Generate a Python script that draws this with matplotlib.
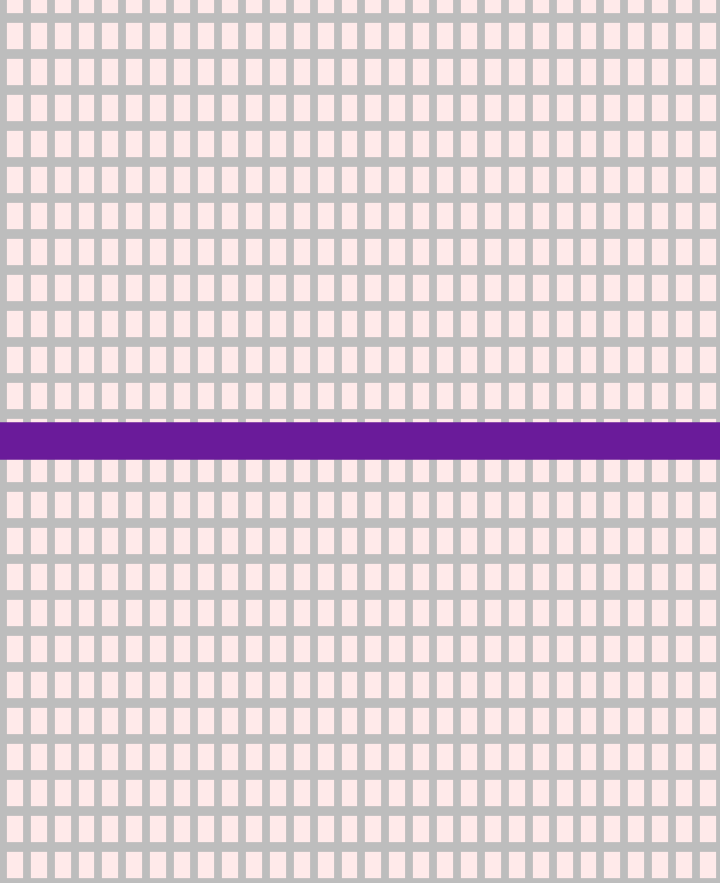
import numpy as np
import matplotlib
matplotlib.use("Agg")
import matplotlib.pyplot as plt

# grid positions (data units) and the single horizontal series
x_grid = list(range(0, 31))
y_grid = list(range(0, 25))
series_x = [-1, 31]
series_y = [11.75, 11.75]

fig = plt.figure(figsize=(7.2, 8.83), dpi=100, facecolor="#ffeaea")
ax = fig.add_axes([0, 0, 1, 1])
ax.set_facecolor("#ffeaea")

ax.set_xlim(-0.12, 29.88)
ax.set_ylim(24.0, -0.5)
ax.set_xticks(x_grid)
ax.set_yticks(y_grid)
ax.grid(True, color="#bdbdbd", linewidth=5.6, axis="x")
ax.grid(True, color="#bdbdbd", linewidth=7.0, axis="y")
ax.tick_params(length=0, labelbottom=False, labelleft=False)
for s in ax.spines.values():
    s.set_visible(False)

ax.plot(series_x, series_y, color="#6a1b9a", linewidth=27, solid_capstyle="butt")

fig.savefig("out.png", dpi=100)
